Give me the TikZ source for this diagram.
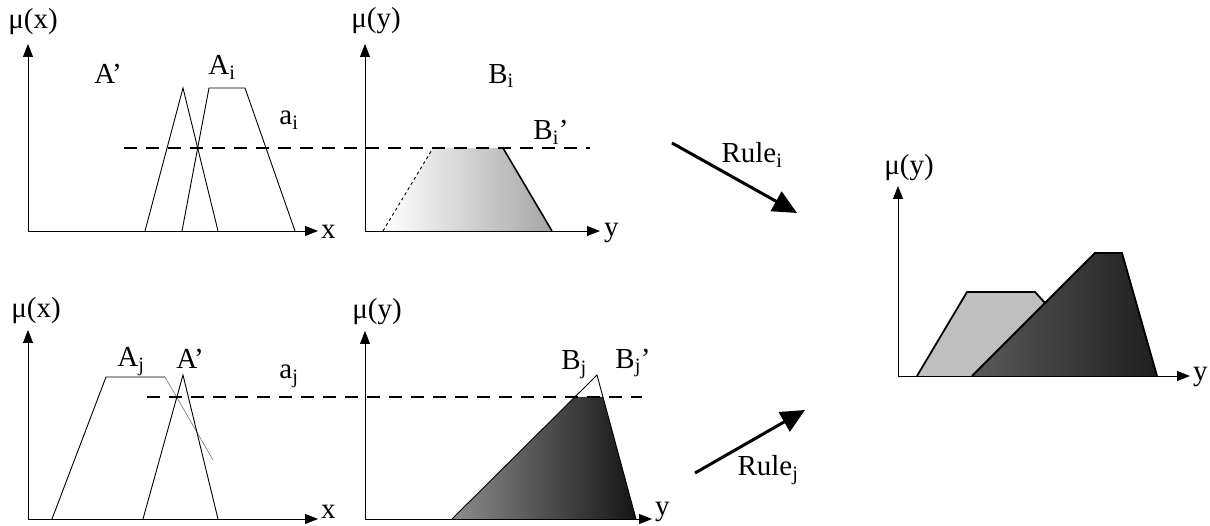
\documentclass[tikz,border=0pt]{standalone}
\usepackage{fontspec}
\setmainfont{Liberation Serif}
\usetikzlibrary{arrows.meta}
\begin{document}
\begin{tikzpicture}[x=1pt,y=-1pt,
  lbl/.style={inner sep=0pt,font=\fontsize{29}{32}\selectfont},
  axis/.style={line width=0.9pt,-{Triangle[width=10pt,length=13pt]}},
  mf/.style={line width=0.9pt},
  thickmf/.style={line width=1.6pt},
  cut/.style={line width=2pt,dash pattern=on 13pt off 9pt},
  rulearrow/.style={line width=3pt,-{Triangle[width=22pt,length=24pt]}}]
\useasboundingbox (0,0) rectangle (1210,526);

% ---------- panel 1 (top left) ----------
\coordinate (o1) at (28,231);
\coordinate (y1) at (28,44);
\coordinate (x1) at (318,231);
\draw[axis] (o1) -- (y1);
\draw[axis] (o1) -- (x1);
\node[lbl] (mux1) at (33,22) {μ(x)};
\node[lbl,anchor=west] (xl1) at (321,232) {x};
\draw[mf] (145,231) -- (183,88) -- (218,231);
\draw[mf] (182,231) -- (209,88) -- (245,88) -- (295,231);
\node[lbl] (Ap1) at (108,74) {A’};
\node[lbl] (Ai) at (222,67) {A\textsubscript{i}};
\node[lbl] (ai) at (289,120) {a\textsubscript{i}};

% ---------- panel 2 (top middle) ----------
\coordinate (o2) at (365,231);
\coordinate (y2) at (365,44);
\coordinate (x2) at (600,231);
\shade[left color=white,right color=black!35] (383,231) -- (433,148) -- (503,148) -- (552,231) -- cycle;
\draw[axis] (o2) -- (y2);
\draw[axis] (o2) -- (x2);
\node[lbl] (muy2) at (376,21) {μ(y)};
\node[lbl,anchor=west] (yl2) at (604,233) {y};
\draw[mf,dashed] (383,231) -- (433,148);
\draw[thickmf] (503,148) -- (552,231);
\node[lbl] (Bi) at (501,76) {B\textsubscript{i}};
\node[lbl] (Bip) at (551,132) {B\textsubscript{i}’};
\draw[cut] (124,148) -- (590,148);

% ---------- Rule arrows ----------
\coordinate (ri1) at (672,143);
\coordinate (ri2) at (797,213);
\draw[rulearrow] (ri1) -- (ri2);
\node[lbl] (rulei) at (752,155) {Rule\textsubscript{i}};
\coordinate (rj1) at (695,473);
\coordinate (rj2) at (805,410);
\draw[rulearrow] (rj1) -- (rj2);
\node[lbl] (rulej) at (768,470) {Rule\textsubscript{j}};

% ---------- panel 3 (bottom left) ----------
\coordinate (o3) at (28,519);
\coordinate (y3) at (28,330);
\coordinate (x3) at (318,519);
\draw[axis] (o3) -- (y3);
\draw[axis] (o3) -- (x3);
\node[lbl] (mux3) at (36,311) {μ(x)};
\node[lbl,anchor=west] (xl3) at (321,512) {x};
\draw[mf] (52,519) -- (106,377) -- (165,377);
\draw[line width=0.6pt,black!55] (165,377) -- (213,460);
\draw[mf] (143,519) -- (183,375) -- (218,519);
\node[lbl] (Aj) at (131,362) {A\textsubscript{j}};
\node[lbl] (Ap3) at (190,359) {A’};
\node[lbl] (aj) at (289,376) {a\textsubscript{j}};

% ---------- panel 4 (bottom middle) ----------
\coordinate (o4) at (365,519);
\coordinate (y4) at (365,331);
\coordinate (x4) at (652,519);
\shade[left color=black!45,right color=black!92] (452,519) -- (575,397) -- (603,397) -- (636,519) -- cycle;
\draw[axis] (o4) -- (y4);
\draw[axis] (o4) -- (x4);
\node[lbl] (muy4) at (377,312) {μ(y)};
\node[lbl,anchor=west] (yl4) at (655,512) {y};
\draw[mf] (452,519) -- (597,375) -- (636,519);
\node[lbl] (Bj) at (574,365) {B\textsubscript{j}};
\node[lbl] (Bjp) at (633,363) {B\textsubscript{j}’};
\draw[cut] (147,397) -- (642,397);

% ---------- panel 5 (result) ----------
\coordinate (o5) at (898,376);
\coordinate (y5) at (898,186);
\coordinate (x5) at (1190,376);
\fill[black!25] (917,376) -- (967,292) -- (1035,292) -- (1045,303) -- (972,376) -- cycle;
\shade[left color=black!65,right color=black!88] (972,376) -- (1095,253) -- (1122,253) -- (1157,376) -- cycle;
\draw[axis] (o5) -- (y5);
\draw[axis] (o5) -- (x5);
\node[lbl] (muy5) at (909,168) {μ(y)};
\node[lbl,anchor=west] (yl5) at (1193,377) {y};
\draw[line width=1.8pt] (917,376) -- (967,292) -- (1035,292) -- (1045,303);
\draw[line width=1.8pt] (972,376) -- (1095,253) -- (1122,253) -- (1157,376);
\end{tikzpicture}
\end{document}
